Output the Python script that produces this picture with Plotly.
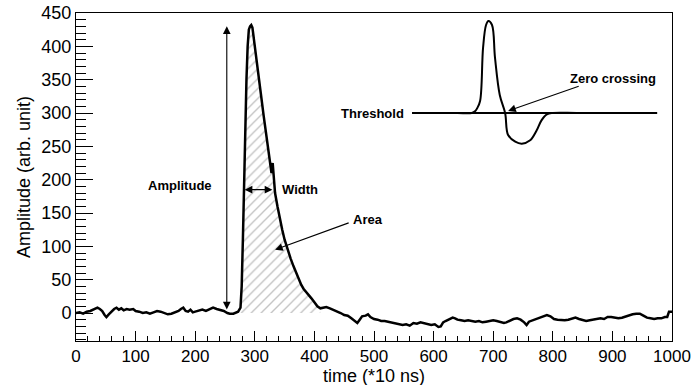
import plotly.graph_objects as go

# Main waveform (time in *10 ns, amplitude in arb. unit)
time = [0, 6, 12, 18, 24, 30, 36, 40, 44, 48, 51, 55, 60, 64, 68, 72, 76, 80, 85, 90, 96, 100,
        106, 112, 118, 124, 130, 136, 142, 148, 154, 160, 166, 172, 176, 180, 184, 188, 192, 196,
        200, 206, 212, 218, 224, 230, 236, 242, 248, 254, 258, 264, 268, 272, 276, 278, 280, 282,
        284, 286, 288, 290, 292, 294, 296, 298, 300, 305, 310, 315, 320, 324, 326, 328, 330, 332,
        334, 338, 342, 346, 350, 355, 360, 365, 370, 374, 378, 382, 386, 390, 395, 400, 405, 410,
        415, 420, 426, 432, 438, 444, 450, 456, 462, 468, 472, 476, 480, 486, 490, 494, 500, 506,
        512, 518, 524, 530, 536, 542, 548, 554, 560, 566, 572, 578, 584, 590, 596, 602, 608, 612,
        616, 620, 626, 632, 636, 640, 646, 652, 658, 664, 670, 676, 682, 688, 694, 700, 706, 712,
        718, 722, 728, 734, 740, 746, 752, 756, 760, 766, 772, 778, 784, 790, 796, 802, 808, 814,
        820, 826, 832, 838, 844, 850, 856, 862, 868, 874, 880, 886, 892, 898, 904, 910, 916, 922,
        928, 934, 940, 946, 952, 958, 964, 970, 976, 982, 988, 992, 995, 1000]
amplitude = [0, 1, -1, 2, 3, 5, 8, 6, 3, -3, -6, -2, 3, 6, 8, 5, 7, 4, 6, 5, 6, 3,
             2, 0, 1, -1, 1, 3, 2, 0, -2, -1, 1, 3, 6, 8, 3, 2, 5, 1,
             2, 4, 5, 3, 6, 8, 6, 5, 3, 0, -1, -1, 0, 2, 8, 40, 110, 200,
             280, 350, 400, 425, 430, 432, 428, 415, 398, 370, 330, 295, 260, 235, 225, 210, 225, 205,
             180, 160, 140, 125, 110, 95, 82, 70, 58, 50, 42, 36, 32, 27, 22, 16, 10, 7,
             8, 9, 7, 5, 3, 0, -3, -4, -8, -13, -15, -10, -5, -4, -2, -6, -9, -10,
             -12, -12, -13, -14, -16, -17, -18, -17, -19, -15, -16, -14, -15, -16, -18, -17, -21, -20,
             -14, -12, -9, -7, -8, -10, -11, -12, -11, -12, -13, -12, -14, -13, -12, -11, -12, -14,
             -15, -14, -11, -9, -8, -10, -14, -18, -13, -11, -10, -8, -5, -3, -5, -9, -10, -11,
             -11, -10, -8, -7, -9, -11, -12, -11, -10, -10, -8, -9, -6, -6, -7, -8, -7, -5,
             -3, -2, -1, -1, -4, -7, -8, -9, -8, -8, -6, -6, 2, 2]

# Hatched "Area" region limits
area_start, area_end = 276, 410

# Inset: idealised bipolar pulse with threshold line
inset_time = [564, 600, 640, 664, 670, 673, 678, 683, 688, 692, 698, 703, 711, 720, 725, 737,
              748, 762, 773, 781, 790, 800, 840, 900, 975]
inset_amp = [300, 300, 300, 300, 303, 307, 318, 398, 432, 438, 432, 383, 327, 300, 267, 257,
             254, 259, 274, 289, 298, 300, 300, 300, 300]
threshold_x = [564, 975]
threshold_y = [300, 300]

x_ticks = [0, 100, 200, 300, 400, 500, 600, 700, 800, 900, 1000]
y_ticks = [0, 50, 100, 150, 200, 250, 300, 350, 400, 450]

area_x = [t for t in time if area_start <= t <= area_end]
area_y = [a for t, a in zip(time, amplitude) if area_start <= t <= area_end]

fig = go.Figure()
fig.add_trace(go.Scatter(
    x=area_x, y=area_y, mode="lines", line=dict(width=0),
    fill="tozeroy", fillcolor="rgba(0,0,0,0)",
    fillpattern=dict(shape="/", fgcolor="#8a8a8a", bgcolor="white", size=7, solidity=0.2),
    hoverinfo="skip", showlegend=False))
fig.add_trace(go.Scatter(x=time, y=amplitude, mode="lines",
                         line=dict(color="black", width=2.5), showlegend=False))
fig.add_trace(go.Scatter(x=threshold_x, y=threshold_y, mode="lines",
                         line=dict(color="black", width=2), showlegend=False))
fig.add_trace(go.Scatter(x=inset_time, y=inset_amp, mode="lines", line_shape="spline",
                         line=dict(color="black", width=2), showlegend=False))

FAM = "Arial, Liberation Sans, sans-serif"
lab = dict(family=FAM, size=13, color="black")
arrow = dict(showarrow=True, arrowhead=2, arrowsize=1.4, arrowwidth=1.1, arrowcolor="black",
             axref="x", ayref="y", text="")
annotations = [
    dict(x=253, y=430, ax=253, ay=3, arrowside="end+start", **arrow),
    dict(x=283, y=185, ax=332, ay=185, arrowside="end+start", **arrow),
    dict(x=334, y=95, ax=460, ay=136, **arrow),
    dict(x=725, y=303, ax=846, ay=341, **arrow),
    dict(x=174, y=192, text="<b>Amplitude</b>", showarrow=False, font=lab),
    dict(x=376, y=185, text="<b>Width</b>", showarrow=False, font=lab),
    dict(x=490, y=140, text="<b>Area</b>", showarrow=False, font=lab),
    dict(x=553, y=300, text="<b>Threshold</b>", showarrow=False, font=lab, xanchor="right"),
    dict(x=901, y=352, text="<b>Zero crossing</b>", showarrow=False, font=lab),
    # x-axis title placed explicitly below the tick labels
    dict(x=0.5, y=0, xref="paper", yref="paper", yshift=-35, yanchor="middle",
         text="time (*10 ns)", showarrow=False,
         font=dict(family=FAM, size=18, color="black")),
]

axfont = dict(family=FAM, size=18, color="black")
xtickfont = dict(family=FAM, size=17, color="black")
fig.update_layout(
    width=692, height=385,
    margin=dict(l=76, r=20, t=13, b=44),
    paper_bgcolor="white", plot_bgcolor="white",
    font=axfont,
    annotations=annotations,
    xaxis=dict(range=[0, 1000], tickvals=x_ticks, ticks="inside", ticklen=10, tickwidth=1,
               tickcolor="black", showline=True, linecolor="black", linewidth=1, mirror=True,
               showgrid=False, zeroline=False, automargin=False, ticklabeloverflow="allow",
               minor=dict(ticks="inside", ticklen=5, dtick=20, tickcolor="black", showgrid=False),
               tickfont=xtickfont),
    yaxis=dict(range=[-42, 450], tickvals=y_ticks, ticks="inside", ticklen=17, tickwidth=1,
               tickcolor="black", showline=True, linecolor="black", linewidth=1, mirror=True,
               showgrid=False, zeroline=False, automargin=False,
               minor=dict(ticks="inside", ticklen=10, dtick=10, tick0=0, tickcolor="black", showgrid=False),
               title=dict(text="Amplitude (arb. unit)", standoff=6, font=axfont), tickfont=axfont),
)
fig.write_html("out.html", config={"displayModeBar": False},
               post_script="document.body.style.margin='0';document.body.style.overflow='hidden';")
